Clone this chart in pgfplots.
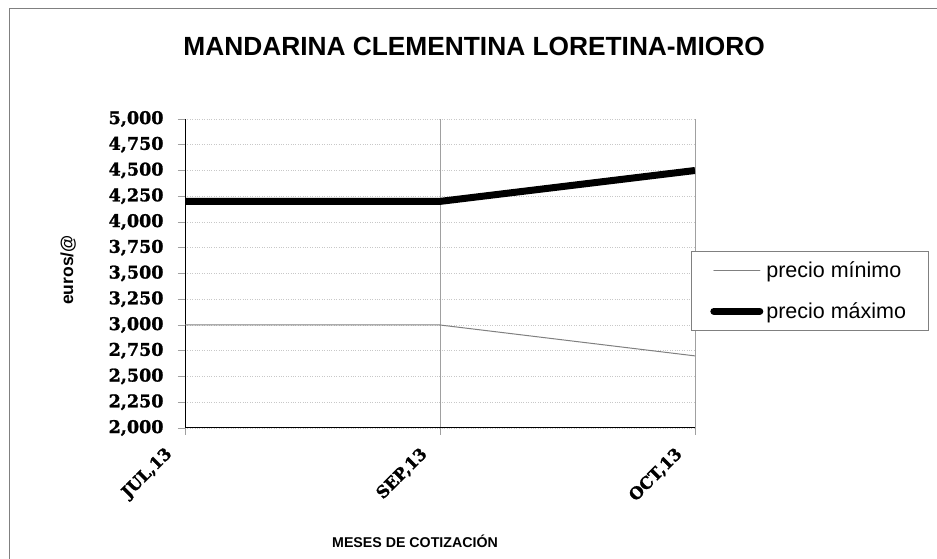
\documentclass[border=0pt]{standalone}
\usepackage{fontspec}
\setmainfont{Liberation Sans}
\newfontfamily\tickfont{DejaVu Serif}[BoldFeatures={FakeBold=1.3}]
\usepackage{pgfplots}
\pgfplotsset{compat=1.18}
\definecolor{bordergray}{RGB}{128,128,128}
\definecolor{gridgray}{RGB}{200,200,200}
\definecolor{vgridgray}{RGB}{160,160,160}
\definecolor{mingray}{RGB}{128,128,128}
\begin{document}
\begin{tikzpicture}[x=1pt,y=1pt]
\useasboundingbox (0,0) rectangle (937,559);
\fill[white] (0,0) rectangle (937,559);
\draw[bordergray, line width=1pt] (9.5,-2) -- (9.5,550.5) -- (940,550.5);
\begin{axis}[
  at={(185pt,131pt)}, anchor=south west,
  scale only axis, width=510pt, height=309pt,
  xmin=0, xmax=2, ymin=2, ymax=5,
  xtick={0,1,2}, xticklabels={{JUL,13},{SEP,13},{OCT,13}},
  ytick={2,2.25,2.5,2.75,3,3.25,3.5,3.75,4,4.25,4.5,4.75,5},
  /pgf/number format/.cd, use comma, fixed, fixed zerofill, precision=3, assume math mode=true,
  /pgfplots/.cd,
  axis x line*=bottom, axis y line*=left,
  axis line style={-, black, line width=1pt},
  tick align=outside, major tick length=7pt,
  tick style={vgridgray, line width=0.8pt},
  xmajorgrids, ymajorgrids,
  x grid style={vgridgray, line width=0.8pt},
  y grid style={gridgray, dotted, line width=0.6pt},
  yticklabel style={font=\tickfont\bfseries\fontsize{17.5}{19}\selectfont, xshift=-11pt},
  xticklabel style={font=\tickfont\bfseries\fontsize{16.5}{18}\selectfont, xshift=-13pt, yshift=-14pt, rotate=45, anchor=east},
  ylabel={euros/@},
  ylabel style={font=\bfseries\fontsize{17.5}{20}\selectfont, at={(axis description cs:-0.229,0.511)}, anchor=center},
  xlabel={MESES DE COTIZACIÓN},
  xlabel style={font=\bfseries\fontsize{14.2}{16}\selectfont, at={(axis description cs:0.451,-0.366)}, anchor=center},
  title={MANDARINA CLEMENTINA LORETINA-MIORO},
  title style={font=\bfseries\fontsize{26.3}{30}\selectfont, at={(axis description cs:0.567,1.215)}, anchor=center},
  legend style={at={(axis description cs:0.992,0.573)}, anchor=north west,
    draw=bordergray, line width=0.8pt, fill=white,
    font=\fontsize{21.5}{25}\selectfont,
    inner xsep=19pt, inner ysep=7pt, row sep=18pt,
    nodes={inner sep=3pt}},
  legend cell align=left,
  legend image code/.code={\draw[#1, line cap=round] (3pt,0pt) -- (49pt,0pt);},
]
\addplot[mingray, line width=1pt] coordinates {(0,3.0) (1,3.0) (2,2.7)};
\addlegendentry{precio mínimo}
\addplot[black, line width=7pt] coordinates {(0,4.2) (1,4.2) (2,4.5)};
\addlegendentry{precio máximo}
\end{axis}
\end{tikzpicture}
\end{document}
